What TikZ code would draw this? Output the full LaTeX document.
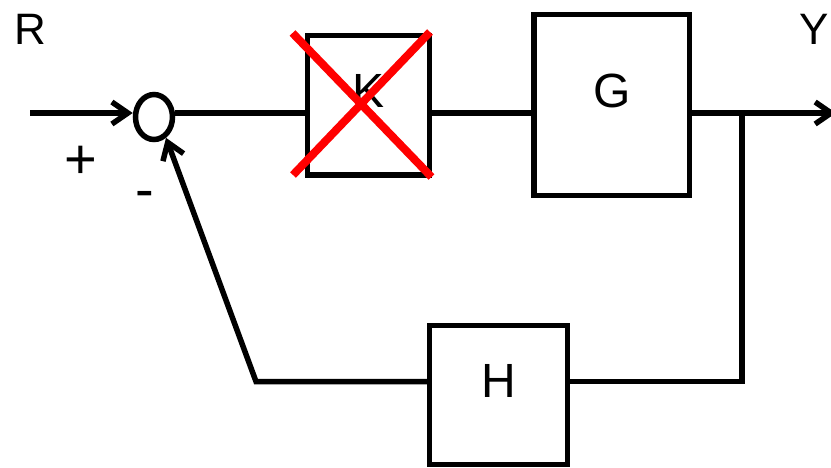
\documentclass[tikz,border=0pt]{standalone}
\usepackage{fontspec}
\setmainfont{Liberation Sans}
\usetikzlibrary{arrows.meta, shapes.geometric, calc}
\tikzset{
  every picture/.style={line width=5.5pt},
  block/.style={draw, rectangle, inner sep=0pt, font=\fontsize{48}{50}\selectfont, text depth=28pt},
  sumnode/.style={draw, ellipse, inner sep=0pt, minimum width=37pt, minimum height=45pt},
  sig/.style={-{Straight Barb[length=16pt, width=22pt]}},
  lbl/.style={inner sep=0pt, font=\fontsize{44}{46}\selectfont},
  sign/.style={inner sep=0pt, font=\fontsize{56}{58}\selectfont},
  cross/.style={red, line width=8pt},
}

\begin{document}
\begin{tikzpicture}[x=1pt, y=-1pt]
  \useasboundingbox (0,0) rectangle (831,467);
  % points and blocks
  \coordinate (in) at (30,113);
  \node[sumnode] (sum) at (154,117) {};
  \node[block, minimum width=122pt, minimum height=139.5pt] (K) at (368.5,105) {K};
  \node[block, minimum width=155.5pt, minimum height=181pt] (G) at (611.75,105) {G};
  \node[block, minimum width=138pt, minimum height=139pt] (H) at (498.5,395) {H};
  \coordinate (br) at (742,113);
  \coordinate (out) at (836,113);
  \coordinate (fb) at (256,381.5);
  % labels
  \node[lbl] (rlbl) at (30,29) {R};
  \node[lbl] (ylbl) at (814,29) {Y};
  \node[sign] (plus) at (80.5,162) {+};
  \node[sign] (minus) at (145,199.5) {-};
  % forward path
  \draw[sig] (in) -- (sum.west |- in);
  \draw (sum.east |- in) -- (K.west |- in);
  \draw (K.east |- in) -- (G.west |- in);
  \draw[sig] (G.east |- in) -- (out);
  % feedback path
  \draw (br) |- (H.east |- fb);
  \draw[sig] (H.west |- fb) -- (fb) -- (sum.-60);
  % K is crossed out
  \draw[cross] ($(K)+(-76,-72)$) -- ($(K)+(63,72)$);
  \draw[cross] ($(K)+(61.5,-73)$) -- ($(K)+(-75.5,70)$);
\end{tikzpicture}
\end{document}
